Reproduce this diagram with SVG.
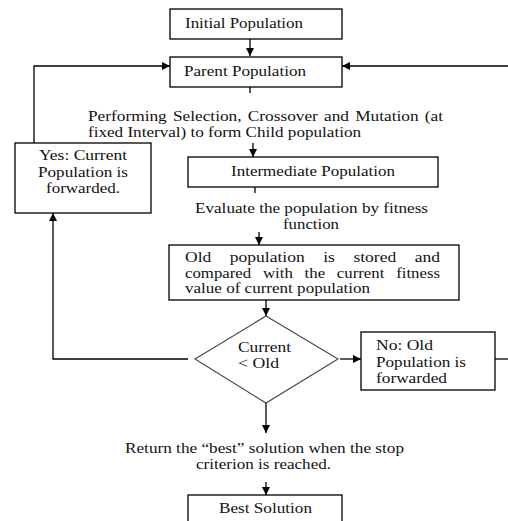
<svg xmlns="http://www.w3.org/2000/svg" width="508" height="521" viewBox="0 0 508 521">
<style>
.box{fill:#fff;stroke:#000;stroke-width:1.3}
.ln{fill:none;stroke:#000;stroke-width:1.3}
text{font-family:"Liberation Serif","Times New Roman",serif;font-size:14px;fill:#111}
</style>
<defs>
<marker id="ah" viewBox="0 0 10 10" refX="10" refY="5" markerWidth="8" markerHeight="8" markerUnits="userSpaceOnUse" orient="auto">
<path d="M0,0 L10,5 L0,10 Z" fill="#000"/>
</marker>
</defs>
<rect width="508" height="521" fill="#fff"/>
<g id="connectors">
<line class="ln" x1="250" y1="39" x2="250" y2="56" marker-end="url(#ah)"/>
<polyline class="ln" points="34,143 34,66 170,66" marker-end="url(#ah)"/>
<line class="ln" x1="508" y1="66" x2="342" y2="66" marker-end="url(#ah)"/>
<line class="ln" x1="250" y1="87" x2="250" y2="93"/>
<line class="ln" x1="253" y1="143" x2="253" y2="157" marker-end="url(#ah)"/>
<line class="ln" x1="255" y1="187" x2="255" y2="193"/>
<line class="ln" x1="259" y1="232" x2="259" y2="245" marker-end="url(#ah)"/>
<line class="ln" x1="266" y1="300" x2="266" y2="316" marker-end="url(#ah)"/>
<polyline class="ln" points="188,359 53,359 53,213" marker-end="url(#ah)"/>
<line class="ln" x1="340" y1="359" x2="361" y2="359" marker-end="url(#ah)"/>
<line class="ln" x1="495" y1="359" x2="508" y2="359"/>
<line class="ln" x1="266" y1="403" x2="266" y2="433" marker-end="url(#ah)"/>
<line class="ln" x1="266" y1="482" x2="266" y2="495" marker-end="url(#ah)"/>
</g>
<g id="initial">
<rect class="box" x="170" y="9" width="172" height="30"/>
<text x="185" y="28" textLength="118" lengthAdjust="spacingAndGlyphs">Initial Population</text>
</g>
<g id="parent">
<rect class="box" x="170" y="57" width="172" height="30"/>
<text x="184" y="76" textLength="122" lengthAdjust="spacingAndGlyphs">Parent Population</text>
</g>
<g id="label-selection">
<text x="88" y="121" textLength="355" lengthAdjust="spacingAndGlyphs" style="word-spacing:1.5px">Performing Selection, Crossover and Mutation (at</text>
<text x="88" y="137" textLength="273" lengthAdjust="spacingAndGlyphs">fixed Interval) to form Child population</text>
</g>
<g id="intermediate">
<rect class="box" x="188" y="157" width="250" height="30"/>
<text x="231" y="176" textLength="164" lengthAdjust="spacingAndGlyphs">Intermediate Population</text>
</g>
<g id="label-evaluate">
<text x="195" y="213" textLength="233" lengthAdjust="spacingAndGlyphs">Evaluate the population by fitness</text>
<text x="283" y="229" textLength="56" lengthAdjust="spacingAndGlyphs">function</text>
</g>
<g id="old">
<rect class="box" x="169" y="245" width="290" height="55"/>
<text x="185" y="262" textLength="255" lengthAdjust="spacingAndGlyphs" style="word-spacing:11.3px">Old population is stored and</text>
<text x="185" y="277.5" textLength="255" lengthAdjust="spacingAndGlyphs" style="word-spacing:6.3px">compared with the current fitness</text>
<text x="185" y="293" textLength="185" lengthAdjust="spacingAndGlyphs">value of current population</text>
</g>
<g id="yes">
<rect class="box" x="15" y="143" width="136" height="70"/>
<text x="39" y="160" textLength="88" lengthAdjust="spacingAndGlyphs">Yes: Current</text>
<text x="38" y="176.5" textLength="90" lengthAdjust="spacingAndGlyphs">Population is</text>
<text x="46" y="193" textLength="74" lengthAdjust="spacingAndGlyphs">forwarded.</text>
</g>
<g id="decision">
<polygon points="266,316 338,359 266,403 195,359" fill="#fff" stroke="#444" stroke-width="1.1"/>
<text x="238" y="352" textLength="53" lengthAdjust="spacingAndGlyphs">Current</text>
<text x="238" y="368" textLength="41" lengthAdjust="spacingAndGlyphs">&lt; Old</text>
</g>
<g id="no">
<rect class="box" x="361" y="332" width="134" height="58"/>
<text x="376" y="350" textLength="57" lengthAdjust="spacingAndGlyphs">No: Old</text>
<text x="376" y="366.5" textLength="90" lengthAdjust="spacingAndGlyphs">Population is</text>
<text x="376" y="383" textLength="71" lengthAdjust="spacingAndGlyphs">forwarded</text>
</g>
<g id="label-return">
<text x="125" y="453" textLength="279" lengthAdjust="spacingAndGlyphs">Return the “best” solution when the stop</text>
<text x="196" y="469" textLength="135" lengthAdjust="spacingAndGlyphs">criterion is reached.</text>
</g>
<g id="best">
<rect class="box" x="188" y="495" width="154" height="40"/>
<text x="219" y="513" textLength="93" lengthAdjust="spacingAndGlyphs">Best Solution</text>
</g>
</svg>
